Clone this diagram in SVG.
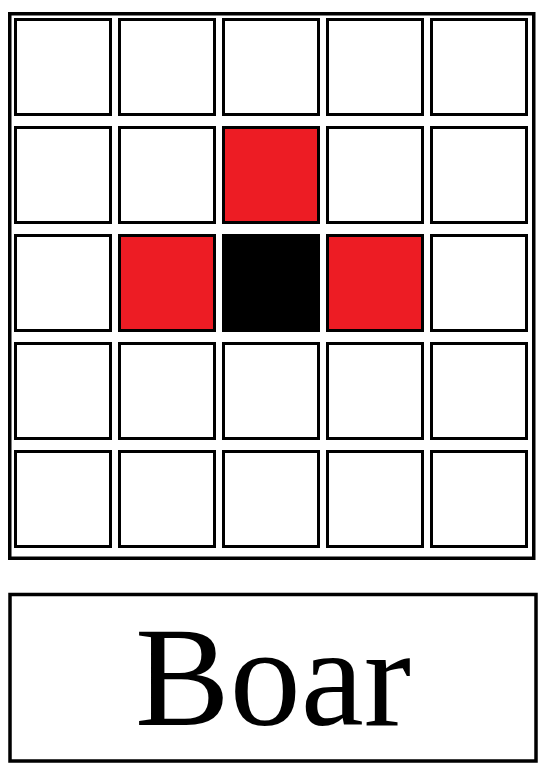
<svg xmlns="http://www.w3.org/2000/svg" width="552" height="777" viewBox="0 0 552 777">
<style>
.c{fill:#fff;stroke:#000;stroke-width:3}
.r{fill:#ED1C24}
.k{fill:#000}
.f{fill:none;stroke:#000;stroke-width:3.5}
.t{font-family:"Liberation Serif",serif;font-size:142px;fill:#000;text-anchor:middle}
</style>
<rect width="552" height="777" fill="#fff"/>
<g id="grid">
<rect class="f" x="9.75" y="13.75" width="524" height="544.5"/>
<g id="row1">
<rect class="c" x="15.5" y="19.5" width="95" height="95"/>
<rect class="c" x="119.5" y="19.5" width="95" height="95"/>
<rect class="c" x="223.5" y="19.5" width="95" height="95"/>
<rect class="c" x="327.5" y="19.5" width="95" height="95"/>
<rect class="c" x="431.5" y="19.5" width="95" height="95"/>
</g>
<g id="row2">
<rect class="c" x="15.5" y="127.5" width="95" height="95"/>
<rect class="c" x="119.5" y="127.5" width="95" height="95"/>
<rect class="c r" x="223.5" y="127.5" width="95" height="95"/>
<rect class="c" x="327.5" y="127.5" width="95" height="95"/>
<rect class="c" x="431.5" y="127.5" width="95" height="95"/>
</g>
<g id="row3">
<rect class="c" x="15.5" y="235.5" width="95" height="95"/>
<rect class="c r" x="119.5" y="235.5" width="95" height="95"/>
<rect class="c k" x="223.5" y="235.5" width="95" height="95"/>
<rect class="c r" x="327.5" y="235.5" width="95" height="95"/>
<rect class="c" x="431.5" y="235.5" width="95" height="95"/>
</g>
<g id="row4">
<rect class="c" x="15.5" y="343.5" width="95" height="95"/>
<rect class="c" x="119.5" y="343.5" width="95" height="95"/>
<rect class="c" x="223.5" y="343.5" width="95" height="95"/>
<rect class="c" x="327.5" y="343.5" width="95" height="95"/>
<rect class="c" x="431.5" y="343.5" width="95" height="95"/>
</g>
<g id="row5">
<rect class="c" x="15.5" y="451.5" width="95" height="95"/>
<rect class="c" x="119.5" y="451.5" width="95" height="95"/>
<rect class="c" x="223.5" y="451.5" width="95" height="95"/>
<rect class="c" x="327.5" y="451.5" width="95" height="95"/>
<rect class="c" x="431.5" y="451.5" width="95" height="95"/>
</g>
</g>
<g id="label">
<rect class="f" x="10" y="594.5" width="526" height="166.5"/>
<text class="t" x="273" y="725">Boar</text>
</g>
<g id="connectors"/>
</svg>
